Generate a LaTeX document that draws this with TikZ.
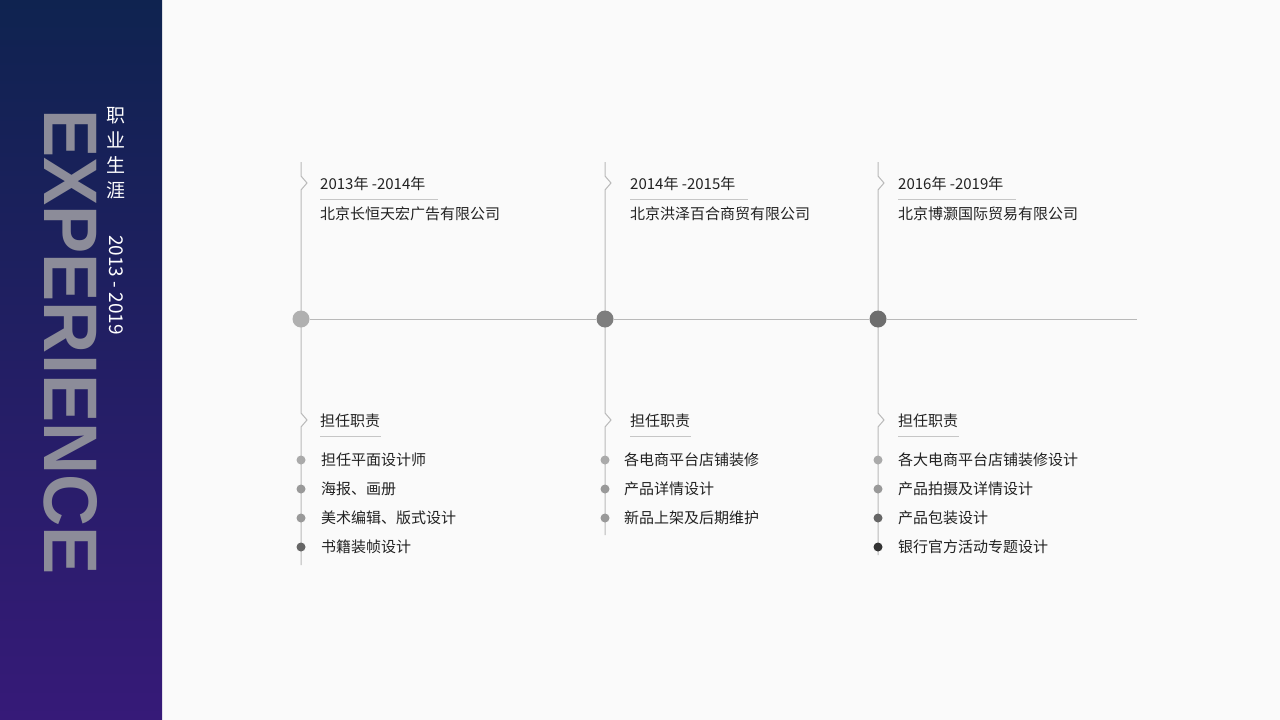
\documentclass[tikz,border=0pt]{standalone}
\usepackage{fontspec}
\setmainfont{Noto Sans CJK SC}
\newfontfamily\latinb{Liberation Sans}
\usepackage{graphicx}
\definecolor{topb}{HTML}{0F2350}
\definecolor{botb}{HTML}{361A78}
\definecolor{txt}{HTML}{222222}
\begin{document}
\begin{tikzpicture}[x=1pt,y=-1pt,
  vline/.style={draw=gray!55,line width=1pt},
  ttl/.style={anchor=west,font=\fontsize{15}{15}\selectfont,text=txt,inner sep=0pt},
  item/.style={anchor=west,font=\fontsize{15}{15}\selectfont,text=txt,inner sep=0pt},
  uline/.style={draw=gray!45,line width=0.8pt}]
\useasboundingbox (0,0) rectangle (1280,720);
\fill[white!96!gray] (0,0) rectangle (1280,720);
\shade[top color=topb,bottom color=botb] (0,0) rectangle (162,720);
\node[rotate=-90,inner sep=0pt,text=white!75!blue!20!gray] (exp) at (71,342)
 {\resizebox{465pt}{53pt}{\latinb\bfseries EXPERIENCE}};
\node[inner sep=0pt,text=white,align=center,font=\fontsize{19}{25}\selectfont] (cz) at (116,153) {职\\业\\生\\涯};
\node[rotate=-90,inner sep=0pt,text=white,font=\fontsize{19}{19}\selectfont] (yr) at (116,285) {2013 - 2019};
% horizontal
\coordinate (hend) at (1137,319);
\foreach \n/\x/\yb/\c in {a/301/565/B0B0B0,b/605/535/7E7E7E,c/878/555/6E6E6E}{
  \coordinate (\n top) at (\x,162);
  \coordinate (\n bot) at (\x,\yb);
  \draw[vline] (\n top) -- (\x,176) -- (\x+6,183) -- (\x,190) -- (\x,413) -- (\x+6,420) -- (\x,427) -- (\n bot);
  \definecolor{cc}{HTML}{\c}
  \node[circle,fill=cc,minimum size=17pt,inner sep=0pt] (\n dot) at (\x,319) {};
}
\draw[vline] (adot) -- (bdot);
\draw[vline] (bdot) -- (cdot);
\draw[vline] (cdot) -- (hend);
% texts
\foreach \n/\x/\yrs/\co in {a/320/2013年 -2014年/北京长恒天宏广告有限公司,b/630/2014年 -2015年/北京洪泽百合商贸有限公司,c/898/2016年 -2019年/北京博灏国际贸易有限公司}{
  \node[ttl] (\n yr) at (\x,184) {\yrs};
  \draw[uline] (\n yr.south west) ++(0,8) -- ++(118,0);
  \node[ttl] (\n co) at (\x,214) {\co};
  \node[ttl] (\n dut) at (\x,421) {担任职责};
  \draw[uline] (\n dut.south west) ++(0,8) -- ++(61,0);
}
\foreach \t/\y/\c [count=\i] in {担任平面设计师/460/AAAAAA,海报、画册/489/999999,美术编辑、版式设计/518/999999,书籍装帧设计/547/666666}{
  \definecolor{dc}{HTML}{\c}
  \node[circle,fill=dc,minimum size=9pt,inner sep=0pt] (ad\i) at (301,\y) {};
  \node[item] (at\i) at (321,\y) {\t};}
\foreach \t/\y/\c [count=\i] in {各电商平台店铺装修/460/AAAAAA,产品详情设计/489/999999,新品上架及后期维护/518/999999}{
  \definecolor{dc}{HTML}{\c}
  \node[circle,fill=dc,minimum size=9pt,inner sep=0pt] (bd\i) at (605,\y) {};
  \node[item] (bt\i) at (624,\y) {\t};}
\foreach \t/\y/\c [count=\i] in {各大电商平台店铺装修设计/460/AAAAAA,产品拍摄及详情设计/489/999999,产品包装设计/518/666666,银行官方活动专题设计/547/333333}{
  \definecolor{dc}{HTML}{\c}
  \node[circle,fill=dc,minimum size=9pt,inner sep=0pt] (cd\i) at (878,\y) {};
  \node[item] (ct\i) at (898,\y) {\t};}
\end{tikzpicture}
\end{document}
